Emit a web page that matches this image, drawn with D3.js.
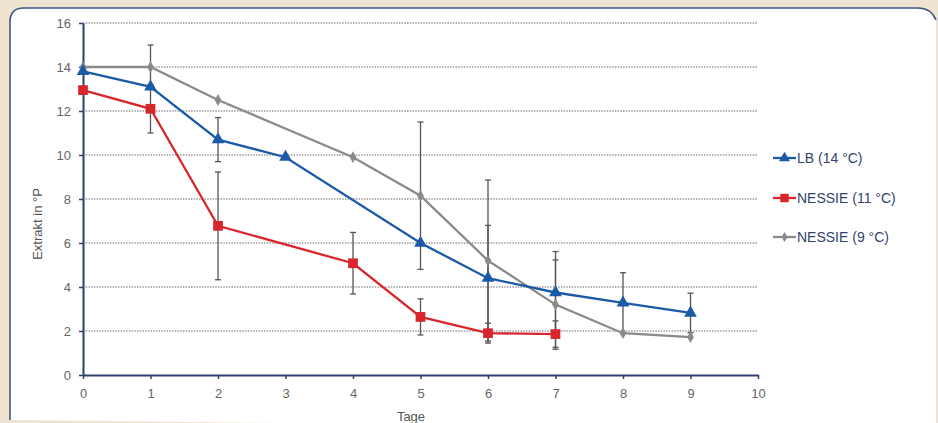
<!DOCTYPE html>
<html><head><meta charset="utf-8">
<script src="https://cdn.jsdelivr.net/npm/d3@7"></script>
<style>html,body{margin:0;padding:0;background:#EEE3D1;}svg{display:block;}</style>
</head><body>
<svg id="c" width="938" height="423"></svg>
<script>
const days = [0,1,2,3,4,5,6,7,8,9];
const lbDays = [0,1,2,3,5,6,7,8,9];
const lbValues = [13.8,13.1,10.7,9.9,6.0,4.4,3.75,3.28,2.82];
const lbErr = [0,0,1.0,0,0,2.4,1.86,1.37,0.9];
const n11Days = [0,1,2,4,5,6,7];
const n11Values = [12.95,12.1,6.78,5.08,2.64,1.9,1.86];
const n11Err = [0,1.1,2.45,1.4,0.82,0.45,0.6];
const n9Days = [0,1,2,4,5,6,7,8,9];
const n9Values = [14.0,14.0,12.5,9.9,8.15,5.2,3.2,1.9,1.72];
const n9Err = [0,1.0,0,0,3.35,3.66,2.03,0,0];
const xTicks = [0,1,2,3,4,5,6,7,8,9,10];
const yTicks = [0,2,4,6,8,10,12,14,16];
const seriesNames = ["LB (14 °C)","NESSIE (11 °C)","NESSIE (9 °C)"];
const seriesColors = ["#1B5AA6","#D7262C","#8A8A8A"];

const svg = d3.select("#c");
// panel
svg.append("path")
  .attr("d","M10,420 L10,22 Q10,8 24,8 L918,8 Q931,8 936,20 L936,430 Z")
  .attr("fill","#FFFFFF");
svg.append("path")
  .attr("d","M10,420 L10,22 Q10,8 24,8 L918,8 Q931,8 936,20")
  .attr("fill","none").attr("stroke","#3F5585").attr("stroke-width",1.6);

const x = d3.scaleLinear().domain([0,10]).range([83,758]);
const y = d3.scaleLinear().domain([0,16]).range([375,23]);

// grid
svg.append("g").selectAll("line").data(yTicks.filter(d=>d>0)).join("line")
  .attr("x1",x(0)).attr("x2",x(10)).attr("y1",d=>y(d)).attr("y2",d=>y(d))
  .attr("stroke","#9a9a9a").attr("stroke-width",1.6).attr("stroke-dasharray","1.5,1.2");

// axes
const axFont = "Liberation Sans, Arial, sans-serif";
const gx = svg.append("g").attr("transform",`translate(0,${y(0)})`)
  .call(d3.axisBottom(x).tickValues(xTicks).tickSize(4).tickSizeOuter(0).tickPadding(10));
const gy = svg.append("g").attr("transform",`translate(${x(0)},0)`)
  .call(d3.axisLeft(y).tickValues(yTicks).tickSize(4).tickSizeOuter(0).tickPadding(8));
[gx,gy].forEach(g=>{
  g.select(".domain").attr("stroke","#2E3F6E").attr("stroke-width",2);
  g.selectAll(".tick line").attr("stroke","#2E3F6E").attr("stroke-width",1.5);
  g.selectAll(".tick text").attr("fill","#666").attr("font-size",13).attr("font-family",axFont);
});

svg.append("text").attr("x",411).attr("y",421).attr("text-anchor","middle")
  .attr("font-family",axFont).attr("font-size",13).attr("fill","#555").text("Tage");
svg.append("text").attr("transform","translate(42,224) rotate(-90)").attr("text-anchor","middle")
  .attr("font-family",axFont).attr("font-size",13).attr("fill","#555").text("Extrakt in °P");

const series = [
  {days:lbDays, vals:lbValues, err:lbErr, shape:d3.symbolTriangle, size:70},
  {days:n11Days, vals:n11Values, err:n11Err, shape:d3.symbolSquare, size:95},
  {days:n9Days, vals:n9Values, err:n9Err, shape:d3.symbolDiamond, size:40}
];

// error bars
const eg = svg.append("g").attr("stroke","#555").attr("stroke-width",1.3);
series.forEach(s=>{
  s.days.forEach((d,i)=>{
    const e = s.err[i]; if(!e) return;
    const v = s.vals[i];
    eg.append("line").attr("x1",x(d)).attr("x2",x(d)).attr("y1",y(v+e)).attr("y2",y(v-e));
    eg.append("line").attr("x1",x(d)-3).attr("x2",x(d)+3).attr("y1",y(v+e)).attr("y2",y(v+e));
    eg.append("line").attr("x1",x(d)-3).attr("x2",x(d)+3).attr("y1",y(v-e)).attr("y2",y(v-e));
  });
});

const line = d3.line().x(d=>x(d[0])).y(d=>y(d[1]));
[2,0,1].forEach(k=>{
  const s = series[k];
  const pts = s.days.map((d,i)=>[d,s.vals[i]]);
  svg.append("path").datum(pts).attr("d",line).attr("fill","none")
    .attr("stroke",seriesColors[k]).attr("stroke-width",2.3);
  svg.append("g").selectAll("path").data(pts).join("path")
    .attr("transform",d=>`translate(${x(d[0])},${y(d[1])})`)
    .attr("d",d3.symbol(s.shape,s.size)).attr("fill",seriesColors[k]);
});

// legend
const leg = svg.append("g");
const legY = [158,198,237];
seriesNames.forEach((n,k)=>{
  const s = series[k];
  leg.append("line").attr("x1",773).attr("x2",796).attr("y1",legY[k]).attr("y2",legY[k])
    .attr("stroke",seriesColors[k]).attr("stroke-width",2.3);
  leg.append("path").attr("transform",`translate(784.5,${legY[k]})`)
    .attr("d",d3.symbol(s.shape,s.size*0.75)).attr("fill",seriesColors[k]);
  leg.append("text").attr("x",797).attr("y",legY[k]+5).attr("font-family",axFont)
    .attr("font-size",14).attr("fill","#34426E").text(n);
});
</script>
</body></html>
